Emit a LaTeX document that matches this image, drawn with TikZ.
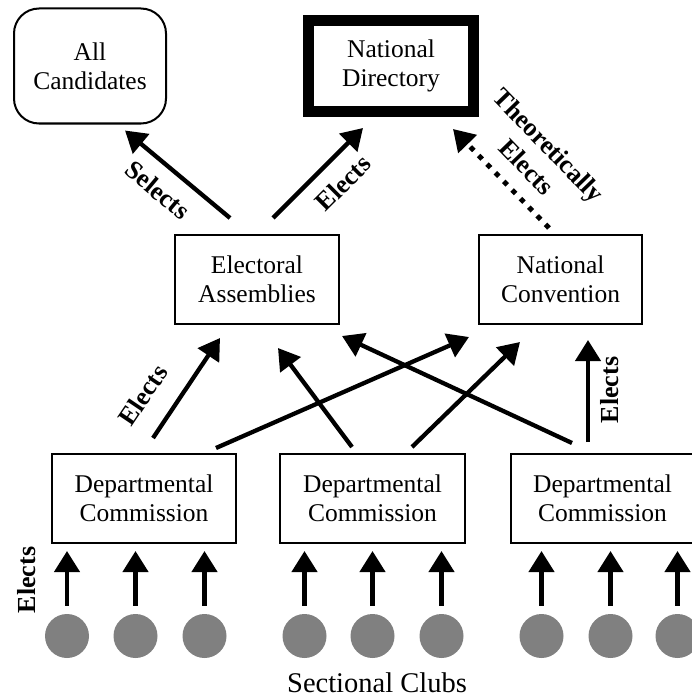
\documentclass[tikz,border=0pt]{standalone}
\usepackage{fontspec}
\setmainfont{Liberation Serif}
\usetikzlibrary{arrows.meta,calc}
\definecolor{clubgray}{HTML}{808080}
\begin{document}
\begin{tikzpicture}[x=1pt,y=-1pt,
  box/.style={draw,line width=2pt,minimum height=89pt,align=center,
    font=\fontsize{25.5}{29}\selectfont,inner sep=0pt},
  arr/.style={line width=4.3pt,-{Triangle[length=21pt,width=25pt]}},
  dotarr/.style={line width=5pt,dash pattern=on 5pt off 7pt,
    -{Triangle[length=21pt,width=25pt]}},
  lbl/.style={font=\bfseries\fontsize{26}{31}\selectfont,inner sep=0pt},
  club/.style={circle,fill=clubgray,minimum size=44pt,inner sep=0pt}]
\useasboundingbox (0,0) rectangle (692,698);
\clip (0,0) rectangle (692,698);

% top level
\node[box,rounded corners=25pt,minimum width=152pt,minimum height=115pt] (ac) at (90,66) {All\\Candidates};
\node[box,line width=11pt,minimum width=165pt,minimum height=90.5pt] (nd) at (391,66.25) {National\\Directory};

% middle level
\node[box,minimum width=164pt] (ea) at (257,279.5) {Electoral\\Assemblies};
\node[box,minimum width=163pt] (nc) at (560.5,279.5) {National\\Convention};

% departmental commissions
\node[box,minimum width=184pt] (d1) at (144,498.5) {Departmental\\Commission};
\node[box,minimum width=185pt] (d2) at (372.5,498.5) {Departmental\\Commission};
\node[box,minimum width=183pt] (d3) at (602.5,498.5) {Departmental\\Commission};

% sectional clubs
\node[club] (c1) at (67,636) {};
\node[club] (c2) at (135.5,636) {};
\node[club] (c3) at (204.5,636) {};
\node[club] (c4) at (304.5,636) {};
\node[club] (c5) at (372.5,636) {};
\node[club] (c6) at (441.5,636) {};
\node[club] (c7) at (541.5,636) {};
\node[club] (c8) at (610.5,636) {};
\node[club] (c9) at (677.5,636) {};

\foreach \c/\d in {c1/d1,c2/d1,c3/d1,c4/d2,c5/d2,c6/d2,c7/d3,c8/d3,c9/d3}
  \draw[arr,shorten <=8pt,shorten >=7pt] (\c) -- (\c |- \d.south);

% commissions to assemblies and convention
\draw[arr] ($(d1.north)+(9,-15)$) -- ($(ea.south)+(-37,13)$);
\draw[arr] ($(d1.north)+(72,-5)$) -- ($(nc.south)+(-91.5,12)$);
\draw[arr] ($(d2.north)+(-20.5,-6)$) -- ($(ea.south)+(21,23)$);
\draw[arr] ($(d2.north)+(39.5,-6)$) -- ($(nc.south)+(-40.5,17)$);
\draw[arr] ($(d3.north)+(-30.5,-10)$) -- ($(ea.south)+(85,11)$);
\draw[arr] ($(d3.north)+(-14.5,-11)$) -- ($(nc.south)+(27.5,15)$);

% upper level
\draw[arr] ($(ea.north)+(-27,-16)$) -- ($(ac.south)+(35,6)$);
\draw[arr] ($(ea.north)+(16,-16)$) -- ($(nd.center)+(-28,61.75)$);
\draw[dotarr] ($(nc.north)+(-11.5,-6)$) -- ($(nd.center)+(62,62.75)$);

% labels
\node[lbl,rotate=-40] (l1) at (158,190) {Selects};
\node[lbl,rotate=45] (l2) at (343,183) {Elects};
\node[lbl,rotate=-46,align=center] (l3) at (538,156) {Theoretically\\Elects};
\node[lbl,rotate=56] (l4) at (143,395) {Elects};
\node[lbl,rotate=90] (l5) at (610,390) {Elects};
\node[lbl,rotate=90] (l6) at (27,580) {Elects};
\node[font=\fontsize{28.5}{34}\selectfont,anchor=base,inner sep=0pt] (sc) at (377,692) {Sectional Clubs};
\end{tikzpicture}
\end{document}
